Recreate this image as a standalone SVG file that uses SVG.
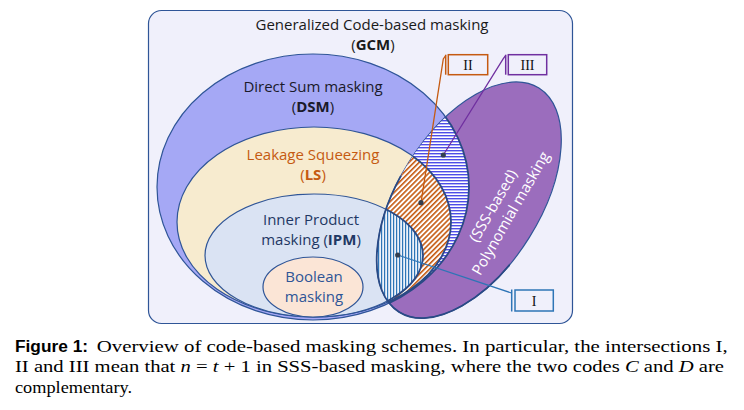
<svg xmlns="http://www.w3.org/2000/svg" width="744" height="410" viewBox="0 0 744 410">
<style>
  .lbl{font-family:"Open Sans","Liberation Sans",sans-serif;font-size:15px;text-anchor:middle}
  .set{stroke:#2f5597;stroke-width:1.2}
  .reg{stroke:#2a4a85;stroke-width:1.8}
  .cap{font-family:"Liberation Serif","Times New Roman",serif;font-size:16px;fill:#000}
  .rom{font-family:"Liberation Serif","Times New Roman",serif;font-size:14px;text-anchor:middle;fill:#111}
  .dot{fill:#333f50}
  .box{fill:none;stroke-width:1.5}
</style>
<defs>
  <pattern id="hH" width="6" height="3" patternUnits="userSpaceOnUse"><rect width="6" height="3" fill="#fff"/><rect width="6" height="1.4" fill="#4d4de8"/></pattern>
  <pattern id="hD" width="3.6" height="6" patternUnits="userSpaceOnUse" patternTransform="rotate(45)"><rect width="3.6" height="6" fill="#fff"/><rect width="1.6" height="6" fill="#c55a11"/></pattern>
  <pattern id="hV" width="3" height="6" patternUnits="userSpaceOnUse"><rect width="3" height="6" fill="#eef2fa"/><rect width="1.2" height="6" fill="#2e75b6"/></pattern>
  <clipPath id="cPoly"><ellipse cx="469" cy="200" rx="132" ry="71" transform="rotate(-58 469 200)"/></clipPath>
  <clipPath id="cDSM"><ellipse cx="313" cy="187" rx="156" ry="133"/></clipPath>
</defs>

<g id="gcm">
  <rect x="148.5" y="10.5" width="424" height="313" rx="13" fill="#f0f0fb" class="set"/>
  <text class="lbl" x="372" y="30" fill="#1a1a1a" font-size="15.5">Generalized Code-based masking</text>
  <text class="lbl" x="373" y="50" fill="#1a1a1a" font-size="15.5">(<tspan font-weight="bold">GCM</tspan>)</text>
</g>

<g id="dsm">
  <ellipse cx="313" cy="187" rx="156" ry="133" fill="#a5a8f5" class="set"/>
  <text class="lbl" x="313" y="92" fill="#1a1a2a">Direct Sum masking</text>
  <text class="lbl" x="313" y="112" fill="#1a1a2a">(<tspan font-weight="bold">DSM</tspan>)</text>
</g>

<g id="ls">
  <ellipse cx="314" cy="222" rx="137" ry="95" fill="#f7ebcf" class="set"/>
  <text class="lbl" x="313" y="160" fill="#c55a11">Leakage Squeezing</text>
  <text class="lbl" x="313" y="180" fill="#c55a11">(<tspan font-weight="bold">LS</tspan>)</text>
</g>

<g id="ipm">
  <ellipse cx="314" cy="255.5" rx="109" ry="61.5" fill="#dae3f3" class="set"/>
  <text class="lbl" x="311" y="225" fill="#1f3864">Inner Product</text>
  <text class="lbl" x="311" y="245" fill="#1f3864">masking (<tspan font-weight="bold">IPM</tspan>)</text>
</g>

<g id="boolean">
  <ellipse cx="313" cy="287" rx="50" ry="30" fill="#fbe5d6" class="set"/>
  <text class="lbl" x="314" y="282" fill="#2f5597" font-size="16">Boolean</text>
  <text class="lbl" x="314" y="302" fill="#2f5597" font-size="16">masking</text>
</g>

<g id="poly">
  <ellipse cx="469" cy="200" rx="132" ry="71" transform="rotate(-58 469 200)" fill="#9b6dbd" class="set"/>
  <text class="lbl" fill="#fff" font-size="15.5" transform="translate(493.3 205.8) rotate(-60)" y="5">(SSS-based)</text>
  <text class="lbl" fill="#fff" font-size="15.5" transform="translate(510.8 213.3) rotate(-60)" y="5">Polynomial masking</text>
</g>

<g id="intersections">
  <g clip-path="url(#cPoly)">
    <ellipse cx="313" cy="187" rx="156" ry="133" fill="url(#hH)" class="reg"/>
    <ellipse cx="314" cy="222" rx="137" ry="95" fill="url(#hD)" class="reg"/>
    <ellipse cx="314" cy="255.5" rx="109" ry="61.5" fill="url(#hV)" class="reg"/>
  </g>
  <ellipse cx="469" cy="200" rx="132" ry="71" transform="rotate(-58 469 200)" fill="none" class="reg" clip-path="url(#cDSM)"/>
</g>

<g id="connectors" fill="none" stroke-width="1.3">
  <path d="M397.7 255 L511.5 293" stroke="#2e75b6"/>
  <path d="M421 202.7 L443.3 59 L445.7 55.5" stroke="#c55a11"/>
  <path d="M443.3 155 L503.3 58.7 L505.7 55.5" stroke="#7030a0"/>
  <circle class="dot" cx="397.7" cy="255" r="2.6" stroke="none"/>
  <circle class="dot" cx="421" cy="202.7" r="2.6" stroke="none"/>
  <circle class="dot" cx="443.3" cy="155" r="2.6" stroke="none"/>
</g>

<g id="label-I">
  <line x1="511.7" y1="289.5" x2="511.7" y2="311.5" stroke="#2e75b6" stroke-width="1.5"/>
  <rect class="box" x="515" y="290" width="38.3" height="21" stroke="#2e75b6"/>
  <text class="rom" x="534" y="305.5">I</text>
</g>
<g id="label-II">
  <line x1="445.7" y1="54.7" x2="445.7" y2="74.7" stroke="#c55a11" stroke-width="1.5"/>
  <rect class="box" x="448.3" y="54.7" width="39.4" height="20" stroke="#c55a11"/>
  <text class="rom" x="468" y="69.5">II</text>
</g>
<g id="label-III">
  <line x1="505.7" y1="54.7" x2="505.7" y2="74.7" stroke="#7030a0" stroke-width="1.5"/>
  <rect class="box" x="508.3" y="54.7" width="38.4" height="20" stroke="#7030a0"/>
  <text class="rom" x="527.5" y="69.5">III</text>
</g>

<g id="caption">
  <text x="15" y="351.7" font-family="'Liberation Sans',Arial,sans-serif" font-weight="bold" font-size="16" textLength="73" lengthAdjust="spacingAndGlyphs">Figure 1:</text>
  <text class="cap" x="96.7" y="351.7" textLength="631" lengthAdjust="spacingAndGlyphs">Overview of code-based masking schemes. In particular, the intersections I,</text>
  <text class="cap" x="15" y="372.3" textLength="709" lengthAdjust="spacingAndGlyphs">II and III mean that <tspan font-style="italic">n</tspan> = <tspan font-style="italic">t</tspan> + 1 in SSS-based masking, where the two codes <tspan font-style="italic">C</tspan> and <tspan font-style="italic">D</tspan> are</text>
  <text class="cap" x="15" y="392.5" textLength="117" lengthAdjust="spacingAndGlyphs">complementary.</text>
</g>
</svg>
